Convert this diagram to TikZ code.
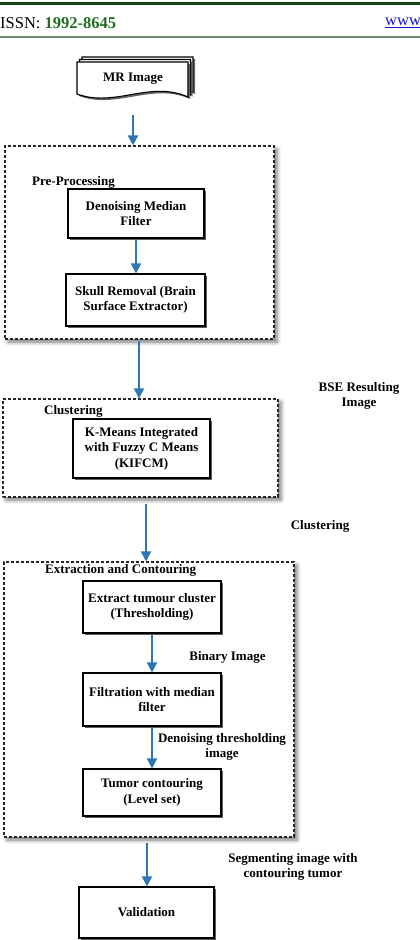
\documentclass[tikz,border=0pt]{standalone}
\usepackage{fontspec}
\setmainfont{Liberation Serif}
\usetikzlibrary{arrows.meta,shadows,shadows.blur,calc}
\definecolor{arrblue}{RGB}{46,117,182}
\definecolor{hdrgreen}{RGB}{30,110,30}
\definecolor{hdrline}{RGB}{25,70,25}
\definecolor{hdrthin}{RGB}{110,140,110}
\definecolor{linkblue}{RGB}{20,20,200}
\begin{document}
\begin{tikzpicture}[x=1pt,y=-1pt,
  every node/.style={font=\fontsize{13}{15.5}\selectfont\bfseries, inner sep=0pt},
  procbox/.style={draw=black, line width=1.1pt, fill=white, align=center,
    drop shadow={shadow xshift=2pt, shadow yshift=-2pt, fill=black!70, opacity=0.9}},
  grpbox/.style={draw=black!85, line width=1.1pt, dash pattern=on 3pt off 2pt, fill=white,
    blur shadow={shadow xshift=3pt, shadow yshift=-3pt, shadow blur radius=4pt, shadow opacity=55}},
  grplabel/.style={anchor=west},
  flowlabel/.style={align=center},
  arr/.style={draw=arrblue, line width=2pt, -{Triangle[length=10pt,width=10pt]}}
]
\useasboundingbox (0,0) rectangle (420,940);
% header
\draw[hdrline, line width=3pt] (0,3.5) -- (420,3.5);
\draw[hdrthin, line width=1.2pt] (0,37) -- (420,37);
\node[anchor=west, font=\fontsize{16.5}{18}\selectfont] (issn) at (0,23) {ISSN: \textcolor{hdrgreen}{\bfseries 1992-8645}};
\node[anchor=west, font=\fontsize{16.5}{18}\selectfont, text=linkblue] (www) at (385,23) {\underline{www}};

% MR Image multi-document
\begin{scope}[line width=1.1pt]
  \foreach \s in {5,2.5} {
    \fill[black!60, xshift=\s pt+2pt, yshift=\s pt-2pt] (77,62) -- (188,62) -- (188,97) .. controls (150,80) and (115,108) .. (77,94) -- cycle;
    \filldraw[fill=white, draw=black, xshift=\s pt, yshift=\s pt] (77,62) -- (188,62) -- (188,97) .. controls (150,80) and (115,108) .. (77,94) -- cycle;
  }
  \fill[black!60, xshift=2pt, yshift=-2pt] (77,62) -- (188,62) -- (188,97) .. controls (150,80) and (115,108) .. (77,94) -- cycle;
  \filldraw[fill=white, draw=black] (77,62) -- (188,62) -- (188,97) .. controls (150,80) and (115,108) .. (77,94) -- cycle;
\end{scope}
\node (mr) at (133,79) {MR Image};
\coordinate (mrout) at (133,115);

% Pre-processing group
\node[grpbox, minimum width=269pt, minimum height=193pt] (pre) at (139.5,242.5) {};
\node[grplabel] (prel) at (32,182) {Pre-Processing};
\node[procbox, minimum width=136pt, minimum height=49pt] (den) at (136,213.5) {Denoising Median\\Filter};
\node[procbox, minimum width=139pt, minimum height=52pt] (skull) at (135.5,300) {Skull Removal (Brain\\Surface Extractor)};

% Clustering group
\node[grpbox, minimum width=275pt, minimum height=98pt] (clus) at (140.5,448) {};
\node[grplabel] (clusl) at (44,411) {Clustering};
\node[procbox, minimum width=137pt, minimum height=59pt] (kif) at (141.5,448.5) {K-Means Integrated\\with Fuzzy C Means\\(KIFCM)};

% Extraction group
\node[grpbox, minimum width=290pt, minimum height=275pt] (ext) at (149,699.5) {};
\node[grplabel] (extl) at (45,570) {Extraction and Contouring};
\node[procbox, minimum width=138pt, minimum height=52pt] (extr) at (152,607) {Extract tumour cluster\\(Thresholding)};
\node[procbox, minimum width=138pt, minimum height=53pt] (filt) at (152,699.5) {Filtration with median\\filter};
\node[procbox, minimum width=138pt, minimum height=47pt] (tum) at (152,792.5) {Tumor contouring\\(Level set)};

% Validation
\node[procbox, minimum width=135pt, minimum height=51pt] (val) at (146.5,912.5) {Validation};

% side labels
\node[flowlabel] (bse) at (359,396) {BSE Resulting\\Image};
\node[flowlabel] (clt) at (320,526) {Clustering};
\node[flowlabel] (bin) at (227.5,657) {Binary Image};
\node[flowlabel] (dth) at (222,747) {Denoising thresholding\\image};
\node[flowlabel] (seg) at (293,867) {Segmenting image with\\contouring tumor};

% connectors
\coordinate (x139) at (139,0);
\coordinate (x146) at (146,0);
\coordinate (x147) at (147,0);
\draw[arr] (mrout) -- (pre.north -| mrout);
\draw[arr] (den.south) -- (skull.north -| den.south);
\draw[arr] ([yshift=-1pt]pre.south -| x139) -- (clus.north -| x139);
\draw[arr] ([yshift=-6pt]clus.south -| x146) -- (ext.north -| x146);
\draw[arr] (extr.south) -- (filt.north);
\draw[arr] (filt.south) -- (tum.north);
\draw[arr] ([yshift=-5pt]ext.south -| x147) -- (val.north -| x147);
\end{tikzpicture}
\end{document}
